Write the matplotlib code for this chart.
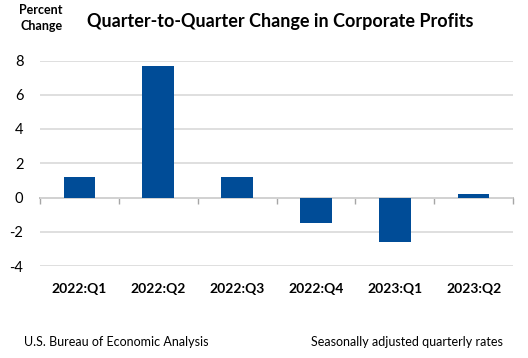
import numpy as np
import matplotlib.pyplot as plt

# data
quarters = ["2022:Q1", "2022:Q2", "2022:Q3", "2022:Q4", "2023:Q1", "2023:Q2"]
pct_change = [1.2, 7.7, 1.2, -1.5, -2.6, 0.2]
yticks = [-4, -2, 0, 2, 4, 6, 8]

plt.rcParams["font.family"] = ["Lato", "DejaVu Sans"]

fig = plt.figure(figsize=(5.28, 3.58), dpi=100)
ax = fig.add_axes([40 / 528, 1 - 266 / 358, 473 / 528, 205.5 / 358])

x = np.arange(len(quarters))
ax.bar(x, pct_change, width=0.4, color="#004C97", zorder=3)

ax.set_xlim(-0.5, len(quarters) - 0.5)
ax.set_ylim(-4, 8)
ax.set_yticks(yticks)
ax.set_yticklabels([str(t) for t in yticks], fontsize=10.5)
ax.tick_params(axis="y", length=0, pad=12)
ax.grid(axis="y", color="#D9D9D9", linewidth=1.2, zorder=0)

ax.set_xticks(x)
ax.set_xticklabels(quarters, fontsize=10, fontweight="bold")
ax.tick_params(axis="x", length=0, pad=12)
for s in ax.spines.values():
    s.set_visible(False)

# zero line with category boundary ticks
zero = ax.secondary_xaxis(4 / 12)
zero.set_xticks(np.arange(len(quarters) + 1) - 0.5)
zero.set_xticklabels([])
zero.tick_params(axis="x", direction="out", length=4, color="#A6A6A6", width=1)
zero.spines["bottom"].set_color("#A6A6A6")
zero.spines["bottom"].set_linewidth(1.2)
zero.spines["bottom"].set_zorder(4)

fig.text(0.078, 0.95, "Percent\nChange", fontsize=9, fontweight="bold",
         ha="center", va="center", linespacing=1.4)
fig.text(0.53, 0.94, "Quarter-to-Quarter Change in Corporate Profits",
         fontsize=13, fontweight="bold", ha="center", va="center")
fig.text(0.045, 0.045, "U.S. Bureau of Economic Analysis", fontsize=9,
         ha="left", va="center")
fig.text(0.952, 0.045, "Seasonally adjusted quarterly rates", fontsize=9,
         ha="right", va="center")

fig.savefig("out.png", dpi=100)
